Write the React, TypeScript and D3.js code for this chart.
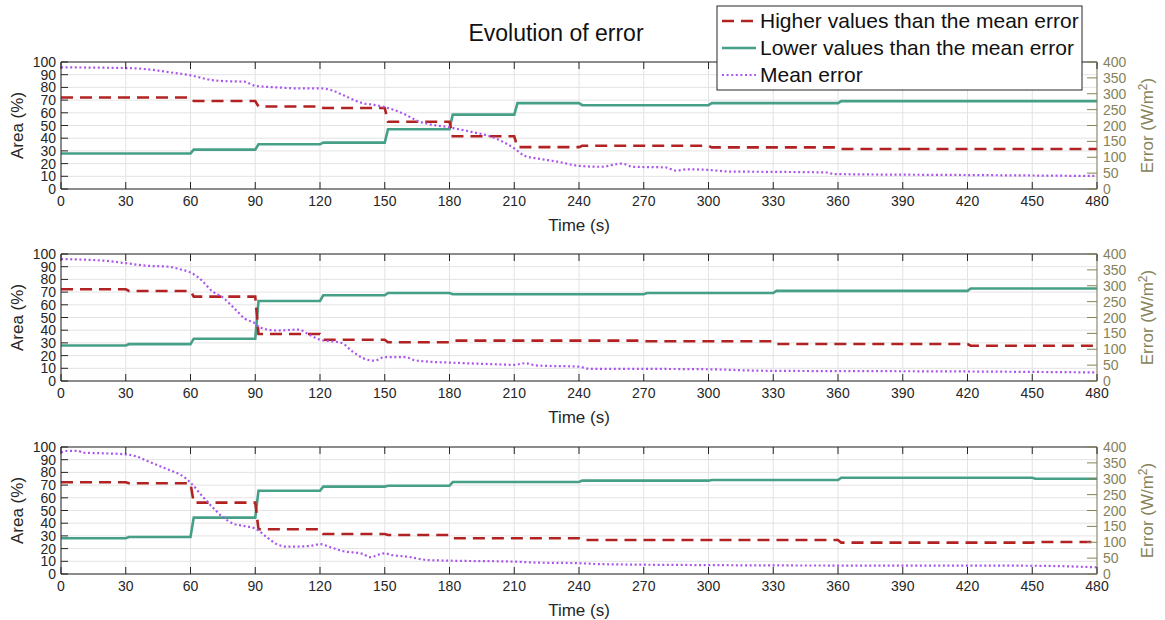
import React from 'react';
import * as d3 from 'd3';

// page size and shared plot box (x range in px)
const width = 1165;
const height = 620;
const plotLeft = 61;
const plotRight = 1097;
const plotHeight = 127;
const panelBottoms = [189, 381, 574];

const timeTicks = d3.range(0, 481, 30);
const areaTicks = d3.range(0, 101, 10);
const errorTicks = d3.range(0, 401, 50);
// each step value holds for one 30 s interval
const stepStarts = d3.range(0, 480, 30);

// panel 1
const higher1 = [72, 72, 69.3, 65, 63.8, 53, 41.5, 33, 34, 34, 32.8, 32.8, 31.5, 31.5, 31.5, 31.5];
const lower1 = [28, 28, 31, 35.2, 36.5, 47, 58.6, 67.6, 66, 66, 67.6, 67.6, 69.2, 69.2, 69.2, 69.2];
const mean1: [number, number][] = [
  [0, 383], [30, 381], [40, 377], [50, 368], [60, 358], [70, 343], [75, 340], [85, 338], [89, 327],
  [90, 325], [100, 320], [110, 317], [120, 317], [125, 312], [130, 298], [140, 270], [145, 265],
  [150, 258], [160, 233], [165, 215], [170, 205], [180, 194], [190, 180], [200, 163], [210, 128],
  [215, 104], [220, 97], [230, 86], [240, 73], [250, 70], [260, 80], [265, 70], [280, 68], [285, 58],
  [290, 62], [300, 60], [310, 55], [330, 54], [355, 52], [358, 47], [420, 44], [480, 41],
];

// panel 2
const higher2 = [72.2, 70.9, 66.4, 37, 32.5, 30.5, 31.8, 31.8, 31.8, 31.3, 31.3, 29.1, 29.1, 29.1, 27.8, 27.8];
const lower2 = [28, 29, 33.3, 63, 67.5, 69.3, 68.3, 68.3, 68.3, 69.3, 69.3, 71, 71, 71, 72.8, 72.8];
const mean2: [number, number][] = [
  [0, 384], [20, 379], [30, 371], [40, 363], [50, 360], [55, 352], [60, 342], [65, 318], [70, 283],
  [75, 263], [80, 231], [85, 197], [90, 181], [92, 169], [100, 159], [110, 162], [115, 146],
  [120, 130], [130, 120], [135, 93], [140, 72], [145, 64], [150, 75], [160, 75], [163, 67],
  [170, 61], [180, 58], [200, 53], [210, 51], [215, 56], [220, 49], [240, 45], [245, 38],
  [270, 38], [300, 37], [320, 33], [330, 32], [420, 30], [480, 27],
];

// panel 3
const higher3 = [72.2, 71.4, 56.2, 35.2, 31.5, 30.7, 28.1, 28.1, 26.8, 26.8, 26.8, 26.8, 24.7, 24.7, 24.7, 25.2];
const lower3 = [28.1, 29.1, 44.4, 65.6, 68.8, 69.5, 72.4, 72.4, 73.5, 73.5, 74, 74, 75.8, 75.8, 75.8, 75];
const mean3: [number, number][] = [
  [0, 383], [3, 388], [8, 388], [10, 382], [20, 380], [30, 377], [35, 370], [40, 356], [50, 328],
  [55, 314], [60, 288], [65, 249], [70, 212], [75, 179], [80, 158], [85, 151], [90, 143], [95, 118],
  [100, 94], [105, 86], [115, 88], [120, 94], [125, 84], [130, 73], [140, 63], [143, 53], [150, 65],
  [153, 60], [160, 55], [170, 44], [180, 42], [210, 39], [220, 36], [240, 34], [250, 31], [300, 28],
  [330, 27], [450, 26], [480, 21],
];

const panels = [
  { higher: higher1, lower: lower1, mean: mean1 },
  { higher: higher2, lower: lower2, mean: mean2 },
  { higher: higher3, lower: lower3, mean: mean3 },
];

const legendLabels = ['Higher values than the mean error', 'Lower values than the mean error', 'Mean error'];

const red = '#b22222';
const green = '#46a087';
const purple = '#aa55ee';
const olive = '#86825a';
const ink = '#262626';
const font = '"Liberation Sans", Arial, Helvetica, sans-serif';

const x = d3.scaleLinear().domain([0, 480]).range([plotLeft, plotRight]);

const stepPoints = (vals: number[]): [number, number][] =>
  vals.flatMap((v, i) => [
    [stepStarts[i] + (i ? 1.5 : 0), v] as [number, number],
    [stepStarts[i] + 30, v] as [number, number],
  ]);

function Panel({ bottom, higher, lower, mean }: any) {
  const top = bottom - plotHeight;
  const yArea = d3.scaleLinear().domain([0, 100]).range([bottom, top]);
  const yErr = d3.scaleLinear().domain([0, 400]).range([bottom, top]);
  const areaLine = d3.line<[number, number]>().x((d) => x(d[0])).y((d) => yArea(d[1]));
  const errLine = d3
    .line<[number, number]>()
    .x((d) => x(d[0]))
    .y((d) => yErr(d[1]))
    .curve(d3.curveMonotoneX);
  const midY = (top + bottom) / 2;

  return (
    <g fontFamily={font}>
      {/* grid */}
      {areaTicks.map((t) => (
        <line key={'ga' + t} x1={plotLeft} x2={plotRight} y1={yArea(t)} y2={yArea(t)} stroke="#e3e3e3" />
      ))}
      {timeTicks.map((t) => (
        <line key={'gt' + t} x1={x(t)} x2={x(t)} y1={top} y2={bottom} stroke="#e3e3e3" />
      ))}

      {/* series */}
      <path d={areaLine(stepPoints(lower)) ?? ''} fill="none" stroke={green} strokeWidth={2.6} />
      <path d={areaLine(stepPoints(higher)) ?? ''} fill="none" stroke={red} strokeWidth={2.6} strokeDasharray="12,7" />
      <path d={errLine(mean) ?? ''} fill="none" stroke={purple} strokeWidth={2.2} strokeDasharray="2,2.6" />

      {/* frame */}
      <line x1={plotLeft} x2={plotRight} y1={top} y2={top} stroke={ink} strokeWidth={1} />
      <line x1={plotLeft} x2={plotRight} y1={bottom} y2={bottom} stroke={ink} strokeWidth={1} />
      <line x1={plotLeft} x2={plotLeft} y1={top} y2={bottom} stroke={ink} strokeWidth={1} />
      <line x1={plotRight} x2={plotRight} y1={top} y2={bottom} stroke={olive} strokeWidth={1} />

      {/* x ticks */}
      {timeTicks.map((t) => (
        <g key={'xt' + t}>
          <line x1={x(t)} x2={x(t)} y1={bottom} y2={bottom - 7} stroke={ink} />
          <line x1={x(t)} x2={x(t)} y1={top} y2={top + 7} stroke={ink} />
          <text x={x(t)} y={bottom + 17} textAnchor="middle" fontSize={14} fill={ink}>
            {t}
          </text>
        </g>
      ))}
      <text x={(plotLeft + plotRight) / 2} y={bottom + 42} textAnchor="middle" fontSize={17} fill={ink}>
        Time (s)
      </text>

      {/* left axis */}
      {areaTicks.map((t) => (
        <g key={'ya' + t}>
          <line x1={plotLeft} x2={plotLeft + 7} y1={yArea(t)} y2={yArea(t)} stroke={ink} />
          <text x={plotLeft - 5} y={yArea(t) + 5} textAnchor="end" fontSize={14} fill={ink}>
            {t}
          </text>
        </g>
      ))}
      <text transform={`translate(23,${midY}) rotate(-90)`} textAnchor="middle" fontSize={17} fill={ink}>
        Area (%)
      </text>

      {/* right axis */}
      {errorTicks.map((t) => (
        <g key={'ye' + t}>
          <line x1={plotRight} x2={plotRight - 10} y1={yErr(t)} y2={yErr(t)} stroke={olive} />
          <text x={plotRight + 6} y={yErr(t) + 5} textAnchor="start" fontSize={14} fill={olive}>
            {t}
          </text>
        </g>
      ))}
      <text transform={`translate(1153,${midY}) rotate(-90)`} textAnchor="middle" fontSize={17} fill={olive}>
        Error (W/m<tspan dy={-6} fontSize={12}>2</tspan>
        <tspan dy={6}>)</tspan>
      </text>
    </g>
  );
}

export default function App() {
  const legendTop = 6;
  const rowGap = 27;
  return (
    <svg
      width={width}
      height={height}
      style={{ position: 'absolute', left: 0, top: 0, background: '#fff' }}
    >
      <rect x={0} y={0} width={width} height={height} fill="#fff" />
      <text x={556} y={41} textAnchor="middle" fontSize={23} fontFamily={font} fill="#111">
        Evolution of error
      </text>
      {panels.map((p, i) => (
        <Panel key={i} bottom={panelBottoms[i]} {...p} />
      ))}

      {/* legend */}
      <g fontFamily={font}>
        <rect x={717} y={legendTop} width={365} height={84} fill="#fff" stroke={ink} strokeWidth={1} />
        {legendLabels.map((label, i) => {
          const cy = legendTop + 15 + i * rowGap;
          const style =
            i === 0
              ? { stroke: red, strokeDasharray: '12,7', strokeWidth: 2.6 }
              : i === 1
              ? { stroke: green, strokeWidth: 2.6 }
              : { stroke: purple, strokeDasharray: '2,2.6', strokeWidth: 2.2 };
          return (
            <g key={label}>
              <line x1={722} x2={756} y1={cy} y2={cy} {...style} />
              <text x={760} y={cy + 7} fontSize={21} fill="#111">
                {label}
              </text>
            </g>
          );
        })}
      </g>
    </svg>
  );
}
